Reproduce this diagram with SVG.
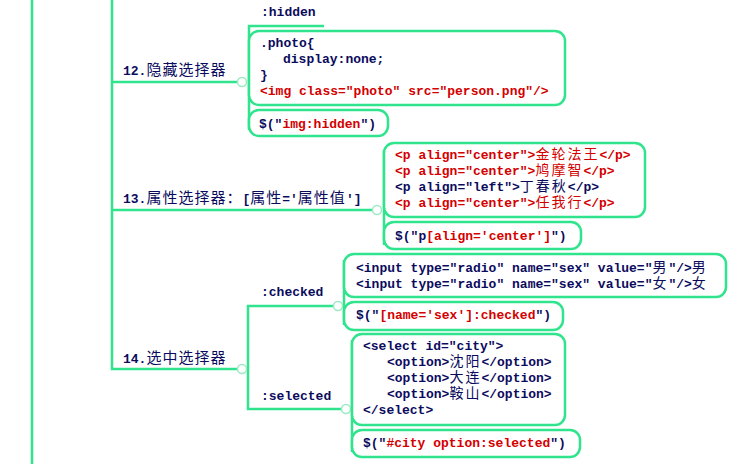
<svg xmlns="http://www.w3.org/2000/svg" width="742" height="464" viewBox="0 0 742 464">
<style>
.ln{fill:none;stroke:#2fe48c;stroke-width:2.5}
.box{fill:#fff;stroke:#2fe48c;stroke-width:2.5}
.dot{fill:#fff;stroke:#9ee9c2;stroke-width:1.5}
.c{font-family:"Liberation Mono","DejaVu Sans Mono",monospace;font-size:13px;font-weight:bold;fill:#0b0b5e}
.r{fill:#d40000}
.cj{font-family:"Noto Sans CJK SC",sans-serif;font-weight:normal;font-size:15px;letter-spacing:1px}
.ck{font-family:"Noto Sans CJK SC",sans-serif;font-weight:normal;font-size:14px;letter-spacing:2px}
.lb{font-family:"Liberation Mono","DejaVu Sans Mono",monospace;font-size:13px;font-weight:bold;fill:#0b0b5e}
</style>
<rect width="742" height="464" fill="#fff"/>
<g id="connectors">
<line class="ln" x1="32" y1="0" x2="32" y2="464"/>
<path class="ln" d="M112 0 V369 H238"/>
<path class="ln" d="M112 82 H238"/>
<path class="ln" d="M112 210 H373"/>
<path class="ln" d="M324 26 H249 V130"/>
<path class="ln" d="M384 150 V245"/>
<path class="ln" d="M246 369 H248 M334 306 H248 V409 H342"/>
<path class="ln" d="M344 260 V325"/>
<path class="ln" d="M352 340 V452"/>
<circle class="dot" cx="242" cy="82" r="4.5"/>
<circle class="dot" cx="377" cy="210" r="4.5"/>
<circle class="dot" cx="242" cy="369" r="4.5"/>
<circle class="dot" cx="338" cy="306" r="4.5"/>
<circle class="dot" cx="346" cy="409" r="4.5"/>
</g>
<g id="n12">
<text class="lb" x="123" y="75">12.<tspan class="cj">隐藏选择器</tspan></text>
</g>
<g id="n12-hidden">
<text class="lb" x="261" y="16">:hidden</text>
</g>
<g id="n12-code">
<rect class="box" x="249" y="31" width="316" height="74" rx="10"/>
<text class="c" x="260" y="47">.photo{</text>
<text class="c" x="283" y="63">display:none;</text>
<text class="c" x="260" y="79">}</text>
<text class="c r" x="260" y="95">&lt;img class="photo" src="person.png"/&gt;</text>
</g>
<g id="n12-jq">
<rect class="box" x="249" y="110" width="139" height="26" rx="10"/>
<text class="c" x="259" y="128">$("<tspan class="r">img:hidden</tspan>")</text>
</g>
<g id="n13">
<text class="lb" x="123" y="203">13.<tspan class="cj">属性选择器：</tspan>[<tspan class="cj">属性</tspan>='<tspan class="cj">属性值</tspan>']</text>
</g>
<g id="n13-code">
<rect class="box" x="384" y="143" width="261" height="74" rx="10"/>
<text class="c r" x="395" y="159">&lt;p align="center"&gt;<tspan class="ck">金轮法王</tspan>&lt;/p&gt;</text>
<text class="c r" x="395" y="175">&lt;p align="center"&gt;<tspan class="ck">鸠摩智</tspan>&lt;/p&gt;</text>
<text class="c" x="395" y="191">&lt;p align="left"&gt;<tspan class="ck">丁春秋</tspan>&lt;/p&gt;</text>
<text class="c r" x="395" y="207">&lt;p align="center"&gt;<tspan class="ck">任我行</tspan>&lt;/p&gt;</text>
</g>
<g id="n13-jq">
<rect class="box" x="384" y="222" width="197" height="27" rx="10"/>
<text class="c" x="395" y="240">$("p<tspan class="r">[align='center']</tspan>")</text>
</g>
<g id="n14">
<text class="lb" x="123" y="363">14.<tspan class="cj">选中选择器</tspan></text>
</g>
<g id="n14-checked">
<text class="lb" x="261" y="296">:checked</text>
</g>
<g id="n14-checked-code">
<rect class="box" x="344" y="254" width="382" height="43" rx="10"/>
<text class="c" x="356" y="272">&lt;input type="radio" name="sex" value="<tspan class="ck">男</tspan>"/&gt;<tspan class="ck">男</tspan></text>
<text class="c" x="356" y="288">&lt;input type="radio" name="sex" value="<tspan class="ck">女</tspan>"/&gt;<tspan class="ck">女</tspan></text>
</g>
<g id="n14-checked-jq">
<rect class="box" x="344" y="302" width="219" height="28" rx="10"/>
<text class="c" x="356" y="319">$("<tspan class="r">[name='sex']:checked</tspan>")</text>
</g>
<g id="n14-selected">
<text class="lb" x="261" y="400">:selected</text>
</g>
<g id="n14-selected-code">
<rect class="box" x="352" y="334" width="213" height="91" rx="10"/>
<text class="c" x="363" y="350">&lt;select id="city"&gt;</text>
<text class="c" x="387" y="366">&lt;option&gt;<tspan class="ck">沈阳</tspan>&lt;/option&gt;</text>
<text class="c" x="387" y="382">&lt;option&gt;<tspan class="ck">大连</tspan>&lt;/option&gt;</text>
<text class="c" x="387" y="398">&lt;option&gt;<tspan class="ck">鞍山</tspan>&lt;/option&gt;</text>
<text class="c" x="363" y="414">&lt;/select&gt;</text>
</g>
<g id="n14-selected-jq">
<rect class="box" x="352" y="430" width="228" height="27" rx="10"/>
<text class="c" x="363" y="447">$("<tspan class="r">#city option:selected</tspan>")</text>
</g>
</svg>
